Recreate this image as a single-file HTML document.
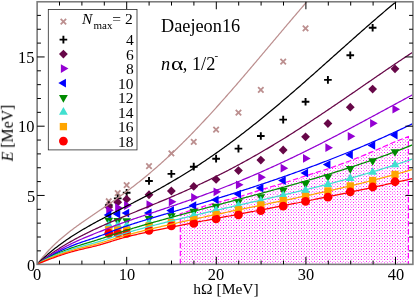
<!DOCTYPE html><html><head><meta charset="utf-8"><style>
html,body{margin:0;padding:0;background:#fff}
#c{position:relative;width:415px;height:298px;overflow:hidden;background:#fff;font-family:"Liberation Serif",serif;color:#000;font-size:15.5px;line-height:1}
.t{position:absolute;white-space:nowrap;line-height:1;will-change:transform}
</style></head><body><div id="c">
<svg width="415" height="298" viewBox="0 0 415 298" style="position:absolute;left:0;top:0">
<defs><pattern id="dots" x="0" y="0" width="13" height="13" patternUnits="userSpaceOnUse" shape-rendering="crispEdges"><rect x="2" y="0" width="1" height="1" fill="#f0f" fill-opacity="0.06"/><rect x="5" y="0" width="1" height="1" fill="#f0f" fill-opacity="0.04"/><rect x="12" y="0" width="1" height="1" fill="#f0f" fill-opacity="0.04"/><rect x="2" y="1" width="1" height="1" fill="#f0f" fill-opacity="0.92"/><rect x="5" y="1" width="1" height="1" fill="#f0f" fill-opacity="0.58"/><rect x="6" y="1" width="1" height="1" fill="#f0f" fill-opacity="0.04"/><rect x="8" y="1" width="1" height="1" fill="#f0f" fill-opacity="0.28"/><rect x="9" y="1" width="1" height="1" fill="#f0f" fill-opacity="0.28"/><rect x="11" y="1" width="1" height="1" fill="#f0f" fill-opacity="0.04"/><rect x="12" y="1" width="1" height="1" fill="#f0f" fill-opacity="0.58"/><rect x="0" y="2" width="1" height="1" fill="#f0f" fill-opacity="0.31"/><rect x="1" y="2" width="1" height="1" fill="#f0f" fill-opacity="0.11"/><rect x="3" y="2" width="1" height="1" fill="#f0f" fill-opacity="0.11"/><rect x="4" y="2" width="1" height="1" fill="#f0f" fill-opacity="0.31"/><rect x="7" y="2" width="1" height="1" fill="#f0f" fill-opacity="0.54"/><rect x="10" y="2" width="1" height="1" fill="#f0f" fill-opacity="0.54"/><rect x="0" y="3" width="1" height="1" fill="#f0f" fill-opacity="0.11"/><rect x="1" y="3" width="1" height="1" fill="#f0f" fill-opacity="0.04"/><rect x="3" y="3" width="1" height="1" fill="#f0f" fill-opacity="0.04"/><rect x="4" y="3" width="1" height="1" fill="#f0f" fill-opacity="0.11"/><rect x="7" y="3" width="1" height="1" fill="#f0f" fill-opacity="0.19"/><rect x="10" y="3" width="1" height="1" fill="#f0f" fill-opacity="0.19"/><rect x="2" y="4" width="1" height="1" fill="#f0f" fill-opacity="1.00"/><rect x="5" y="4" width="1" height="1" fill="#f0f" fill-opacity="0.92"/><rect x="6" y="4" width="1" height="1" fill="#f0f" fill-opacity="0.06"/><rect x="8" y="4" width="1" height="1" fill="#f0f" fill-opacity="0.44"/><rect x="9" y="4" width="1" height="1" fill="#f0f" fill-opacity="0.44"/><rect x="11" y="4" width="1" height="1" fill="#f0f" fill-opacity="0.06"/><rect x="12" y="4" width="1" height="1" fill="#f0f" fill-opacity="0.92"/><rect x="0" y="5" width="1" height="1" fill="#f0f" fill-opacity="0.11"/><rect x="1" y="5" width="1" height="1" fill="#f0f" fill-opacity="0.04"/><rect x="3" y="5" width="1" height="1" fill="#f0f" fill-opacity="0.04"/><rect x="4" y="5" width="1" height="1" fill="#f0f" fill-opacity="0.11"/><rect x="7" y="5" width="1" height="1" fill="#f0f" fill-opacity="0.19"/><rect x="10" y="5" width="1" height="1" fill="#f0f" fill-opacity="0.19"/><rect x="0" y="6" width="1" height="1" fill="#f0f" fill-opacity="0.31"/><rect x="1" y="6" width="1" height="1" fill="#f0f" fill-opacity="0.11"/><rect x="3" y="6" width="1" height="1" fill="#f0f" fill-opacity="0.11"/><rect x="4" y="6" width="1" height="1" fill="#f0f" fill-opacity="0.31"/><rect x="7" y="6" width="1" height="1" fill="#f0f" fill-opacity="0.54"/><rect x="10" y="6" width="1" height="1" fill="#f0f" fill-opacity="0.54"/><rect x="2" y="7" width="1" height="1" fill="#f0f" fill-opacity="0.92"/><rect x="5" y="7" width="1" height="1" fill="#f0f" fill-opacity="0.58"/><rect x="6" y="7" width="1" height="1" fill="#f0f" fill-opacity="0.04"/><rect x="8" y="7" width="1" height="1" fill="#f0f" fill-opacity="0.28"/><rect x="9" y="7" width="1" height="1" fill="#f0f" fill-opacity="0.28"/><rect x="11" y="7" width="1" height="1" fill="#f0f" fill-opacity="0.04"/><rect x="12" y="7" width="1" height="1" fill="#f0f" fill-opacity="0.58"/><rect x="2" y="8" width="1" height="1" fill="#f0f" fill-opacity="0.06"/><rect x="5" y="8" width="1" height="1" fill="#f0f" fill-opacity="0.04"/><rect x="12" y="8" width="1" height="1" fill="#f0f" fill-opacity="0.04"/><rect x="0" y="9" width="1" height="1" fill="#f0f" fill-opacity="0.54"/><rect x="1" y="9" width="1" height="1" fill="#f0f" fill-opacity="0.19"/><rect x="3" y="9" width="1" height="1" fill="#f0f" fill-opacity="0.19"/><rect x="4" y="9" width="1" height="1" fill="#f0f" fill-opacity="0.54"/><rect x="7" y="9" width="1" height="1" fill="#f0f" fill-opacity="0.95"/><rect x="10" y="9" width="1" height="1" fill="#f0f" fill-opacity="0.95"/><rect x="2" y="10" width="1" height="1" fill="#f0f" fill-opacity="0.44"/><rect x="5" y="10" width="1" height="1" fill="#f0f" fill-opacity="0.28"/><rect x="8" y="10" width="1" height="1" fill="#f0f" fill-opacity="0.13"/><rect x="9" y="10" width="1" height="1" fill="#f0f" fill-opacity="0.13"/><rect x="12" y="10" width="1" height="1" fill="#f0f" fill-opacity="0.28"/><rect x="2" y="11" width="1" height="1" fill="#f0f" fill-opacity="0.44"/><rect x="5" y="11" width="1" height="1" fill="#f0f" fill-opacity="0.28"/><rect x="8" y="11" width="1" height="1" fill="#f0f" fill-opacity="0.13"/><rect x="9" y="11" width="1" height="1" fill="#f0f" fill-opacity="0.13"/><rect x="12" y="11" width="1" height="1" fill="#f0f" fill-opacity="0.28"/><rect x="0" y="12" width="1" height="1" fill="#f0f" fill-opacity="0.54"/><rect x="1" y="12" width="1" height="1" fill="#f0f" fill-opacity="0.19"/><rect x="3" y="12" width="1" height="1" fill="#f0f" fill-opacity="0.19"/><rect x="4" y="12" width="1" height="1" fill="#f0f" fill-opacity="0.54"/><rect x="7" y="12" width="1" height="1" fill="#f0f" fill-opacity="0.95"/><rect x="10" y="12" width="1" height="1" fill="#f0f" fill-opacity="0.95"/></pattern><clipPath id="clip"><rect x="37.10" y="1.90" width="375.50" height="262.30"/></clipPath></defs>
<rect width="415" height="298" fill="#fff"/>
<g clip-path="url(#clip)">
<path d="M180.32,264.20 L180.32,213.72 L193.74,209.44 L216.10,202.68 L238.46,197.01 L260.82,189.83 L283.19,183.20 L305.55,175.89 L327.91,168.84 L350.27,160.76 L372.64,151.65 L395.00,141.71 L408.42,136.60 L408.42,264.20Z" fill="url(#dots)" stroke="none"/>
<path d="M180.32,264.20 L180.32,213.72 L193.74,209.44 L216.10,202.68 L238.46,197.01 L260.82,189.83 L283.19,183.20 L305.55,175.89 L327.91,168.84 L350.27,160.76 L372.64,151.65 L395.00,141.71 L408.42,136.60 L408.42,264.20" fill="none" stroke="#ff00ff" stroke-width="1.2" stroke-dasharray="5.5,2.5"/>
<path d="M106.03,198.50L111.49,203.95M106.03,203.95L111.49,198.50" stroke="#bc8f8f" stroke-width="1.8" fill="none"/>
<path d="M114.98,190.35L120.43,195.81M114.98,195.81L120.43,190.35" stroke="#bc8f8f" stroke-width="1.8" fill="none"/>
<path d="M123.92,182.48L129.38,187.93M123.92,187.93L129.38,182.48" stroke="#bc8f8f" stroke-width="1.8" fill="none"/>
<path d="M146.28,163.42L151.74,168.88M146.28,168.88L151.74,163.42" stroke="#bc8f8f" stroke-width="1.8" fill="none"/>
<path d="M168.65,150.72L174.10,156.17M168.65,156.17L174.10,150.72" stroke="#bc8f8f" stroke-width="1.8" fill="none"/>
<path d="M191.01,139.12L196.47,144.57M191.01,144.57L196.47,139.12" stroke="#bc8f8f" stroke-width="1.8" fill="none"/>
<path d="M213.37,126.82L218.83,132.28M213.37,132.28L218.83,126.82" stroke="#bc8f8f" stroke-width="1.8" fill="none"/>
<path d="M235.73,109.98L241.19,115.43M235.73,115.43L241.19,109.98" stroke="#bc8f8f" stroke-width="1.8" fill="none"/>
<path d="M258.10,87.19L263.55,92.65M258.10,92.65L263.55,87.19" stroke="#bc8f8f" stroke-width="1.8" fill="none"/>
<path d="M280.46,58.88L285.92,64.34M280.46,64.34L285.92,58.88" stroke="#bc8f8f" stroke-width="1.8" fill="none"/>
<path d="M302.82,25.60L308.28,31.05M302.82,31.05L308.28,25.60" stroke="#bc8f8f" stroke-width="1.8" fill="none"/>
<path d="M104.93,205.09L112.59,205.09M108.76,201.27L108.76,208.92" stroke="#000000" stroke-width="1.9" fill="none"/>
<path d="M113.88,198.33L121.53,198.33M117.70,194.50L117.70,202.15" stroke="#000000" stroke-width="1.9" fill="none"/>
<path d="M122.82,192.80L130.48,192.80M126.65,188.97L126.65,196.63" stroke="#000000" stroke-width="1.9" fill="none"/>
<path d="M145.18,180.93L152.84,180.93M149.01,177.10L149.01,184.75" stroke="#000000" stroke-width="1.9" fill="none"/>
<path d="M167.55,173.88L175.20,173.88M171.38,170.05L171.38,177.71" stroke="#000000" stroke-width="1.9" fill="none"/>
<path d="M189.91,166.70L197.57,166.70M193.74,162.87L193.74,170.53" stroke="#000000" stroke-width="1.9" fill="none"/>
<path d="M212.27,158.69L219.93,158.69M216.10,154.86L216.10,162.52" stroke="#000000" stroke-width="1.9" fill="none"/>
<path d="M234.63,148.61L242.29,148.61M238.46,144.78L238.46,152.44" stroke="#000000" stroke-width="1.9" fill="none"/>
<path d="M257.00,136.04L264.65,136.04M260.82,132.22L260.82,139.87" stroke="#000000" stroke-width="1.9" fill="none"/>
<path d="M279.36,119.61L287.02,119.61M283.19,115.78L283.19,123.44" stroke="#000000" stroke-width="1.9" fill="none"/>
<path d="M301.72,101.79L309.38,101.79M305.55,97.97L305.55,105.62" stroke="#000000" stroke-width="1.9" fill="none"/>
<path d="M324.08,79.84L331.74,79.84M327.91,76.01L327.91,83.66" stroke="#000000" stroke-width="1.9" fill="none"/>
<path d="M346.45,55.25L354.10,55.25M350.27,51.43L350.27,59.08" stroke="#000000" stroke-width="1.9" fill="none"/>
<path d="M368.81,27.77L376.47,27.77M372.64,23.94L372.64,31.60" stroke="#000000" stroke-width="1.9" fill="none"/>
<path d="M104.36,206.89L108.76,202.49L113.16,206.89L108.76,211.29Z" fill="#670748"/>
<path d="M113.30,202.19L117.70,197.79L122.11,202.19L117.70,206.59Z" fill="#670748"/>
<path d="M122.25,199.15L126.65,194.75L131.05,199.15L126.65,203.55Z" fill="#670748"/>
<path d="M144.61,194.74L149.01,190.34L153.41,194.74L149.01,199.14Z" fill="#670748"/>
<path d="M166.97,191.01L171.38,186.61L175.78,191.01L171.38,195.41Z" fill="#670748"/>
<path d="M189.34,186.45L193.74,182.05L198.14,186.45L193.74,190.85Z" fill="#670748"/>
<path d="M211.70,179.41L216.10,175.01L220.50,179.41L216.10,183.81Z" fill="#670748"/>
<path d="M234.06,170.57L238.46,166.17L242.86,170.57L238.46,174.97Z" fill="#670748"/>
<path d="M256.43,160.07L260.82,155.67L265.22,160.07L260.82,164.47Z" fill="#670748"/>
<path d="M278.79,149.99L283.19,145.59L287.59,149.99L283.19,154.39Z" fill="#670748"/>
<path d="M301.15,136.87L305.55,132.47L309.95,136.87L305.55,141.27Z" fill="#670748"/>
<path d="M323.51,123.48L327.91,119.08L332.31,123.48L327.91,127.88Z" fill="#670748"/>
<path d="M345.88,107.18L350.27,102.78L354.67,107.18L350.27,111.58Z" fill="#670748"/>
<path d="M368.24,89.09L372.64,84.69L377.04,89.09L372.64,93.49Z" fill="#670748"/>
<path d="M390.60,68.79L395.00,64.39L399.40,68.79L395.00,73.19Z" fill="#670748"/>
<path d="M106.22,205.80L113.84,210.20L106.22,214.60Z" fill="#9400d3"/>
<path d="M115.16,203.32L122.79,207.72L115.16,212.12Z" fill="#9400d3"/>
<path d="M124.11,201.11L131.73,205.51L124.11,209.91Z" fill="#9400d3"/>
<path d="M146.47,200.14L154.09,204.54L146.47,208.94Z" fill="#9400d3"/>
<path d="M168.83,197.38L176.46,201.78L168.83,206.18Z" fill="#9400d3"/>
<path d="M191.20,193.10L198.82,197.50L191.20,201.90Z" fill="#9400d3"/>
<path d="M213.56,187.44L221.18,191.84L213.56,196.24Z" fill="#9400d3"/>
<path d="M235.92,180.39L243.54,184.79L235.92,189.19Z" fill="#9400d3"/>
<path d="M258.28,172.94L265.91,177.34L258.28,181.74Z" fill="#9400d3"/>
<path d="M280.65,163.82L288.27,168.22L280.65,172.62Z" fill="#9400d3"/>
<path d="M303.01,154.02L310.63,158.42L303.01,162.82Z" fill="#9400d3"/>
<path d="M325.37,143.24L332.99,147.64L325.37,152.04Z" fill="#9400d3"/>
<path d="M347.73,131.97L355.36,136.37L347.73,140.77Z" fill="#9400d3"/>
<path d="M370.10,118.88L377.72,123.28L370.10,127.68Z" fill="#9400d3"/>
<path d="M392.46,104.74L400.08,109.14L392.46,113.54Z" fill="#9400d3"/>
<path d="M111.30,210.50L103.68,214.90L111.30,219.30Z" fill="#0000ff"/>
<path d="M120.25,209.67L112.62,214.07L120.25,218.47Z" fill="#0000ff"/>
<path d="M129.19,208.70L121.57,213.10L129.19,217.50Z" fill="#0000ff"/>
<path d="M151.55,208.56L143.93,212.96L151.55,217.36Z" fill="#0000ff"/>
<path d="M173.92,206.08L166.29,210.48L173.92,214.88Z" fill="#0000ff"/>
<path d="M196.28,201.18L188.66,205.58L196.28,209.98Z" fill="#0000ff"/>
<path d="M218.64,195.38L211.02,199.78L218.64,204.18Z" fill="#0000ff"/>
<path d="M241.00,189.71L233.38,194.11L241.00,198.51Z" fill="#0000ff"/>
<path d="M263.37,183.64L255.74,188.04L263.37,192.44Z" fill="#0000ff"/>
<path d="M285.73,176.18L278.11,180.58L285.73,184.98Z" fill="#0000ff"/>
<path d="M308.09,168.72L300.47,173.12L308.09,177.52Z" fill="#0000ff"/>
<path d="M330.45,160.16L322.83,164.56L330.45,168.96Z" fill="#0000ff"/>
<path d="M352.82,150.42L345.19,154.82L352.82,159.22Z" fill="#0000ff"/>
<path d="M375.18,141.03L367.56,145.43L375.18,149.83Z" fill="#0000ff"/>
<path d="M397.54,130.68L389.92,135.08L397.54,139.48Z" fill="#0000ff"/>
<path d="M104.36,217.74L108.76,225.36L113.16,217.74Z" fill="#008b00"/>
<path d="M113.30,218.02L117.70,225.64L122.11,218.02Z" fill="#008b00"/>
<path d="M122.25,218.30L126.65,225.92L131.05,218.30Z" fill="#008b00"/>
<path d="M144.61,216.09L149.01,223.71L153.41,216.09Z" fill="#008b00"/>
<path d="M166.97,213.19L171.38,220.81L175.78,213.19Z" fill="#008b00"/>
<path d="M189.34,208.84L193.74,216.46L198.14,208.84Z" fill="#008b00"/>
<path d="M211.70,203.86L216.10,211.49L220.50,203.86Z" fill="#008b00"/>
<path d="M234.06,199.17L238.46,206.79L242.86,199.17Z" fill="#008b00"/>
<path d="M256.43,194.20L260.82,201.82L265.22,194.20Z" fill="#008b00"/>
<path d="M278.79,187.71L283.19,195.33L287.59,187.71Z" fill="#008b00"/>
<path d="M301.15,181.08L305.55,188.70L309.95,181.08Z" fill="#008b00"/>
<path d="M323.51,174.17L327.91,181.79L332.31,174.17Z" fill="#008b00"/>
<path d="M345.88,166.09L350.27,173.72L354.67,166.09Z" fill="#008b00"/>
<path d="M368.24,158.22L372.64,165.84L377.04,158.22Z" fill="#008b00"/>
<path d="M390.60,149.25L395.00,156.87L399.40,149.25Z" fill="#008b00"/>
<path d="M104.36,227.52L108.76,219.90L113.16,227.52Z" fill="#40e0d0"/>
<path d="M113.30,227.80L117.70,220.18L122.11,227.80Z" fill="#40e0d0"/>
<path d="M122.25,228.07L126.65,220.45L131.05,228.07Z" fill="#40e0d0"/>
<path d="M144.61,225.03L149.01,217.41L153.41,225.03Z" fill="#40e0d0"/>
<path d="M166.97,222.27L171.38,214.65L175.78,222.27Z" fill="#40e0d0"/>
<path d="M189.34,217.78L193.74,210.16L198.14,217.78Z" fill="#40e0d0"/>
<path d="M211.70,212.67L216.10,205.05L220.50,212.67Z" fill="#40e0d0"/>
<path d="M234.06,208.12L238.46,200.50L242.86,208.12Z" fill="#40e0d0"/>
<path d="M256.43,203.42L260.82,195.80L265.22,203.42Z" fill="#40e0d0"/>
<path d="M278.79,198.17L283.19,190.55L287.59,198.17Z" fill="#40e0d0"/>
<path d="M301.15,192.93L305.55,185.30L309.95,192.93Z" fill="#40e0d0"/>
<path d="M323.51,186.99L327.91,179.37L332.31,186.99Z" fill="#40e0d0"/>
<path d="M345.88,180.98L350.27,173.36L354.67,180.98Z" fill="#40e0d0"/>
<path d="M368.24,174.77L372.64,167.14L377.04,174.77Z" fill="#40e0d0"/>
<path d="M390.60,167.31L395.00,159.69L399.40,167.31Z" fill="#40e0d0"/>
<rect x="105.11" y="226.16" width="7.30" height="7.30" fill="#ffa500"/>
<rect x="114.05" y="226.44" width="7.30" height="7.30" fill="#ffa500"/>
<rect x="123.00" y="226.58" width="7.30" height="7.30" fill="#ffa500"/>
<rect x="145.36" y="222.43" width="7.30" height="7.30" fill="#ffa500"/>
<rect x="167.72" y="219.12" width="7.30" height="7.30" fill="#ffa500"/>
<rect x="190.09" y="215.73" width="7.30" height="7.30" fill="#ffa500"/>
<rect x="212.45" y="210.62" width="7.30" height="7.30" fill="#ffa500"/>
<rect x="234.81" y="206.07" width="7.30" height="7.30" fill="#ffa500"/>
<rect x="257.17" y="201.23" width="7.30" height="7.30" fill="#ffa500"/>
<rect x="279.54" y="196.95" width="7.30" height="7.30" fill="#ffa500"/>
<rect x="301.90" y="192.81" width="7.30" height="7.30" fill="#ffa500"/>
<rect x="324.26" y="187.29" width="7.30" height="7.30" fill="#ffa500"/>
<rect x="346.62" y="182.25" width="7.30" height="7.30" fill="#ffa500"/>
<rect x="368.99" y="176.86" width="7.30" height="7.30" fill="#ffa500"/>
<rect x="391.35" y="170.78" width="7.30" height="7.30" fill="#ffa500"/>
<circle cx="108.76" cy="233.27" r="4.4" fill="#ff0000"/>
<circle cx="117.70" cy="233.54" r="4.4" fill="#ff0000"/>
<circle cx="126.65" cy="233.40" r="4.4" fill="#ff0000"/>
<circle cx="149.01" cy="230.37" r="4.4" fill="#ff0000"/>
<circle cx="171.38" cy="225.95" r="4.4" fill="#ff0000"/>
<circle cx="193.74" cy="223.39" r="4.4" fill="#ff0000"/>
<circle cx="216.10" cy="218.83" r="4.4" fill="#ff0000"/>
<circle cx="238.46" cy="214.83" r="4.4" fill="#ff0000"/>
<circle cx="260.82" cy="210.69" r="4.4" fill="#ff0000"/>
<circle cx="283.19" cy="206.13" r="4.4" fill="#ff0000"/>
<circle cx="305.55" cy="201.43" r="4.4" fill="#ff0000"/>
<circle cx="327.91" cy="197.15" r="4.4" fill="#ff0000"/>
<circle cx="350.27" cy="191.84" r="4.4" fill="#ff0000"/>
<circle cx="372.64" cy="187.00" r="4.4" fill="#ff0000"/>
<circle cx="395.00" cy="181.75" r="4.4" fill="#ff0000"/>
<path d="M37.20,264.20 L38.11,262.98 L39.02,261.78 L39.94,260.61 L40.85,259.46 L41.76,258.34 L42.67,257.23 L43.59,256.15 L44.50,255.08 L45.41,254.04 L46.32,253.01 L47.24,252.00 L48.15,251.01 L49.06,250.04 L49.97,249.09 L50.89,248.15 L51.80,247.22 L52.71,246.31 L53.62,245.42 L54.54,244.54 L55.45,243.67 L56.36,242.82 L57.27,241.97 L58.19,241.15 L59.10,240.33 L60.01,239.52 L60.92,238.73 L61.84,237.94 L62.75,237.17 L63.66,236.40 L64.57,235.65 L65.49,234.90 L66.40,234.16 L67.31,233.43 L68.22,232.71 L69.14,231.99 L70.05,231.28 L70.96,230.58 L71.87,229.89 L72.79,229.20 L73.70,228.51 L74.61,227.84 L75.52,227.17 L76.44,226.50 L77.35,225.84 L78.26,225.18 L79.17,224.52 L80.09,223.87 L81.00,223.23 L81.91,222.58 L82.82,221.94 L83.73,221.31 L84.65,220.67 L85.56,220.04 L86.47,219.41 L87.38,218.78 L88.30,218.16 L89.21,217.53 L90.12,216.91 L91.03,216.29 L91.95,215.67 L92.86,215.05 L93.77,214.43 L94.68,213.81 L95.60,213.19 L96.51,212.57 L97.42,211.95 L98.33,211.34 L99.25,210.72 L100.16,210.10 L101.07,209.48 L101.98,208.86 L102.90,208.24 L103.81,207.62 L104.72,207.00 L105.63,206.37 L106.55,205.75 L107.46,205.12 L108.37,204.49 L109.28,203.86 L110.20,203.23 L111.11,202.60 L112.02,201.96 L112.93,201.33 L113.85,200.69 L114.76,200.04 L115.67,199.40 L116.58,198.75 L117.50,198.11 L118.41,197.45 L119.32,196.80 L120.23,196.14 L121.15,195.49 L122.06,194.82 L122.97,194.16 L123.88,193.49 L124.80,192.82 L125.71,192.15 L126.62,191.47 L127.53,190.79 L128.44,190.11 L129.36,189.42 L130.27,188.73 L131.18,188.04 L132.09,187.34 L133.01,186.64 L133.92,185.94 L134.83,185.23 L135.74,184.52 L136.66,183.81 L137.57,183.09 L138.48,182.37 L139.39,181.65 L140.31,180.92 L141.22,180.19 L142.13,179.45 L143.04,178.71 L143.96,177.97 L144.87,177.22 L145.78,176.47 L146.69,175.72 L147.61,174.96 L148.52,174.20 L149.43,173.43 L150.34,172.66 L151.26,171.89 L152.17,171.11 L153.08,170.33 L153.99,169.55 L154.91,168.76 L155.82,167.97 L156.73,167.17 L157.64,166.37 L158.56,165.57 L159.47,164.76 L160.38,163.95 L161.29,163.13 L162.21,162.31 L163.12,161.49 L164.03,160.66 L164.94,159.83 L165.86,159.00 L166.77,158.16 L167.68,157.32 L168.59,156.47 L169.51,155.62 L170.42,154.77 L171.33,153.91 L172.24,153.05 L173.16,152.18 L174.07,151.32 L174.98,150.44 L175.89,149.57 L176.80,148.69 L177.72,147.81 L178.63,146.92 L179.54,146.03 L180.45,145.14 L181.37,144.24 L182.28,143.34 L183.19,142.43 L184.10,141.53 L185.02,140.62 L185.93,139.70 L186.84,138.78 L187.75,137.86 L188.67,136.94 L189.58,136.01 L190.49,135.08 L191.40,134.15 L192.32,133.21 L193.23,132.27 L194.14,131.32 L195.05,130.38 L195.97,129.43 L196.88,128.47 L197.79,127.52 L198.70,126.56 L199.62,125.60 L200.53,124.63 L201.44,123.66 L202.35,122.69 L203.27,121.72 L204.18,120.74 L205.09,119.76 L206.00,118.78 L206.92,117.80 L207.83,116.81 L208.74,115.82 L209.65,114.82 L210.57,113.83 L211.48,112.83 L212.39,111.83 L213.30,110.83 L214.22,109.82 L215.13,108.81 L216.04,107.80 L216.95,106.79 L217.87,105.77 L218.78,104.76 L219.69,103.74 L220.60,102.71 L221.51,101.69 L222.43,100.66 L223.34,99.64 L224.25,98.60 L225.16,97.57 L226.08,96.54 L226.99,95.50 L227.90,94.46 L228.81,93.42 L229.73,92.38 L230.64,91.34 L231.55,90.29 L232.46,89.24 L233.38,88.19 L234.29,87.14 L235.20,86.09 L236.11,85.04 L237.03,83.98 L237.94,82.93 L238.85,81.87 L239.76,80.81 L240.68,79.75 L241.59,78.68 L242.50,77.62 L243.41,76.55 L244.33,75.49 L245.24,74.42 L246.15,73.35 L247.06,72.28 L247.98,71.21 L248.89,70.14 L249.80,69.07 L250.71,67.99 L251.63,66.92 L252.54,65.84 L253.45,64.77 L254.36,63.69 L255.28,62.61 L256.19,61.53 L257.10,60.45 L258.01,59.37 L258.93,58.29 L259.84,57.21 L260.75,56.13 L261.66,55.05 L262.58,53.96 L263.49,52.88 L264.40,51.80 L265.31,50.71 L266.22,49.63 L267.14,48.55 L268.05,47.46 L268.96,46.38 L269.87,45.29 L270.79,44.21 L271.70,43.13 L272.61,42.04 L273.52,40.96 L274.44,39.87 L275.35,38.79 L276.26,37.70 L277.17,36.62 L278.09,35.54 L279.00,34.45 L279.91,33.37 L280.82,32.29 L281.74,31.21 L282.65,30.12 L283.56,29.04 L284.47,27.96 L285.39,26.88 L286.30,25.80 L287.21,24.72 L288.12,23.65 L289.04,22.57 L289.95,21.49 L290.86,20.42 L291.77,19.34 L292.69,18.27 L293.60,17.19 L294.51,16.12 L295.42,15.05 L296.34,13.98 L297.25,12.91 L298.16,11.85 L299.07,10.78 L299.99,9.71 L300.90,8.65 L301.81,7.59 L302.72,6.53 L303.64,5.47 L304.55,4.41 L305.46,3.35 L306.37,2.30 L307.29,1.24 L308.20,0.19 L309.11,-0.86 L310.02,-1.91" fill="none" stroke="#bc8f8f" stroke-width="1.25"/>
<path d="M37.20,264.20 L38.41,262.99 L39.62,261.80 L40.83,260.64 L42.05,259.49 L43.26,258.37 L44.47,257.26 L45.68,256.17 L46.89,255.10 L48.10,254.05 L49.32,253.01 L50.53,251.99 L51.74,250.99 L52.95,250.01 L54.16,249.03 L55.37,248.08 L56.59,247.14 L57.80,246.21 L59.01,245.30 L60.22,244.40 L61.43,243.51 L62.64,242.64 L63.86,241.77 L65.07,240.92 L66.28,240.08 L67.49,239.25 L68.70,238.44 L69.91,237.63 L71.13,236.83 L72.34,236.04 L73.55,235.26 L74.76,234.49 L75.97,233.73 L77.18,232.98 L78.39,232.23 L79.61,231.50 L80.82,230.77 L82.03,230.04 L83.24,229.33 L84.45,228.62 L85.66,227.92 L86.88,227.22 L88.09,226.53 L89.30,225.84 L90.51,225.16 L91.72,224.48 L92.93,223.81 L94.15,223.14 L95.36,222.48 L96.57,221.82 L97.78,221.17 L98.99,220.52 L100.20,219.87 L101.42,219.22 L102.63,218.58 L103.84,217.94 L105.05,217.30 L106.26,216.67 L107.47,216.04 L108.69,215.41 L109.90,214.78 L111.11,214.15 L112.32,213.52 L113.53,212.90 L114.74,212.27 L115.95,211.65 L117.17,211.03 L118.38,210.41 L119.59,209.78 L120.80,209.16 L122.01,208.54 L123.22,207.92 L124.44,207.30 L125.65,206.68 L126.86,206.05 L128.07,205.43 L129.28,204.81 L130.49,204.18 L131.71,203.56 L132.92,202.93 L134.13,202.30 L135.34,201.67 L136.55,201.04 L137.76,200.41 L138.98,199.78 L140.19,199.14 L141.40,198.51 L142.61,197.87 L143.82,197.23 L145.03,196.58 L146.25,195.94 L147.46,195.29 L148.67,194.64 L149.88,193.99 L151.09,193.33 L152.30,192.68 L153.51,192.02 L154.73,191.35 L155.94,190.69 L157.15,190.02 L158.36,189.35 L159.57,188.67 L160.78,187.99 L162.00,187.31 L163.21,186.63 L164.42,185.94 L165.63,185.25 L166.84,184.56 L168.05,183.86 L169.27,183.16 L170.48,182.46 L171.69,181.75 L172.90,181.04 L174.11,180.32 L175.32,179.61 L176.54,178.88 L177.75,178.16 L178.96,177.43 L180.17,176.70 L181.38,175.96 L182.59,175.22 L183.81,174.48 L185.02,173.73 L186.23,172.98 L187.44,172.22 L188.65,171.46 L189.86,170.70 L191.07,169.93 L192.29,169.16 L193.50,168.38 L194.71,167.60 L195.92,166.82 L197.13,166.03 L198.34,165.24 L199.56,164.44 L200.77,163.64 L201.98,162.84 L203.19,162.03 L204.40,161.22 L205.61,160.41 L206.83,159.59 L208.04,158.76 L209.25,157.94 L210.46,157.10 L211.67,156.27 L212.88,155.43 L214.10,154.58 L215.31,153.74 L216.52,152.88 L217.73,152.03 L218.94,151.17 L220.15,150.31 L221.37,149.44 L222.58,148.57 L223.79,147.69 L225.00,146.81 L226.21,145.93 L227.42,145.04 L228.63,144.15 L229.85,143.26 L231.06,142.36 L232.27,141.46 L233.48,140.55 L234.69,139.64 L235.90,138.73 L237.12,137.81 L238.33,136.89 L239.54,135.97 L240.75,135.04 L241.96,134.11 L243.17,133.17 L244.39,132.24 L245.60,131.29 L246.81,130.35 L248.02,129.40 L249.23,128.45 L250.44,127.49 L251.66,126.53 L252.87,125.57 L254.08,124.61 L255.29,123.64 L256.50,122.67 L257.71,121.69 L258.93,120.71 L260.14,119.73 L261.35,118.75 L262.56,117.76 L263.77,116.77 L264.98,115.78 L266.19,114.78 L267.41,113.79 L268.62,112.78 L269.83,111.78 L271.04,110.77 L272.25,109.76 L273.46,108.75 L274.68,107.74 L275.89,106.72 L277.10,105.70 L278.31,104.68 L279.52,103.65 L280.73,102.63 L281.95,101.60 L283.16,100.56 L284.37,99.53 L285.58,98.49 L286.79,97.46 L288.00,96.42 L289.22,95.37 L290.43,94.33 L291.64,93.28 L292.85,92.23 L294.06,91.18 L295.27,90.13 L296.49,89.08 L297.70,88.02 L298.91,86.97 L300.12,85.91 L301.33,84.85 L302.54,83.79 L303.76,82.72 L304.97,81.66 L306.18,80.59 L307.39,79.53 L308.60,78.46 L309.81,77.39 L311.02,76.32 L312.24,75.25 L313.45,74.17 L314.66,73.10 L315.87,72.02 L317.08,70.95 L318.29,69.87 L319.51,68.80 L320.72,67.72 L321.93,66.64 L323.14,65.56 L324.35,64.48 L325.56,63.40 L326.78,62.32 L327.99,61.24 L329.20,60.16 L330.41,59.08 L331.62,58.00 L332.83,56.91 L334.05,55.83 L335.26,54.75 L336.47,53.67 L337.68,52.59 L338.89,51.51 L340.10,50.43 L341.32,49.34 L342.53,48.26 L343.74,47.18 L344.95,46.10 L346.16,45.02 L347.37,43.95 L348.58,42.87 L349.80,41.79 L351.01,40.71 L352.22,39.64 L353.43,38.56 L354.64,37.49 L355.85,36.41 L357.07,35.34 L358.28,34.27 L359.49,33.20 L360.70,32.13 L361.91,31.07 L363.12,30.00 L364.34,28.94 L365.55,27.87 L366.76,26.81 L367.97,25.75 L369.18,24.69 L370.39,23.63 L371.61,22.58 L372.82,21.53 L374.03,20.48 L375.24,19.43 L376.45,18.38 L377.66,17.33 L378.88,16.29 L380.09,15.25 L381.30,14.21 L382.51,13.17 L383.72,12.14 L384.93,11.11 L386.14,10.08 L387.36,9.05 L388.57,8.03 L389.78,7.01 L390.99,5.99 L392.20,4.97 L393.41,3.96 L394.63,2.95 L395.84,1.95 L397.05,0.94 L398.26,-0.06 L399.47,-1.06" fill="none" stroke="#000000" stroke-width="1.25"/>
<path d="M37.20,264.20 L38.45,263.19 L39.71,262.20 L40.96,261.23 L42.22,260.26 L43.47,259.31 L44.73,258.38 L45.98,257.46 L47.24,256.55 L48.49,255.65 L49.75,254.77 L51.00,253.90 L52.26,253.04 L53.51,252.19 L54.77,251.35 L56.02,250.53 L57.28,249.71 L58.53,248.91 L59.79,248.12 L61.04,247.33 L62.30,246.56 L63.55,245.80 L64.81,245.04 L66.06,244.30 L67.32,243.56 L68.57,242.83 L69.83,242.11 L71.08,241.40 L72.34,240.70 L73.59,240.01 L74.85,239.32 L76.10,238.64 L77.36,237.97 L78.61,237.31 L79.87,236.65 L81.12,236.00 L82.38,235.35 L83.63,234.71 L84.89,234.08 L86.14,233.46 L87.40,232.84 L88.65,232.22 L89.91,231.61 L91.16,231.01 L92.42,230.41 L93.67,229.81 L94.93,229.22 L96.18,228.64 L97.44,228.06 L98.69,227.48 L99.95,226.91 L101.20,226.34 L102.46,225.78 L103.71,225.22 L104.97,224.66 L106.22,224.11 L107.48,223.56 L108.73,223.01 L109.99,222.46 L111.24,221.92 L112.50,221.38 L113.75,220.84 L115.01,220.31 L116.26,219.78 L117.52,219.25 L118.77,218.72 L120.03,218.19 L121.28,217.67 L122.54,217.14 L123.79,216.62 L125.05,216.10 L126.30,215.58 L127.56,215.06 L128.81,214.55 L130.07,214.03 L131.32,213.51 L132.58,213.00 L133.83,212.49 L135.09,211.97 L136.34,211.46 L137.60,210.95 L138.85,210.43 L140.11,209.92 L141.36,209.41 L142.62,208.90 L143.87,208.39 L145.13,207.87 L146.38,207.36 L147.64,206.85 L148.89,206.33 L150.15,205.82 L151.40,205.30 L152.66,204.79 L153.91,204.27 L155.17,203.75 L156.42,203.24 L157.68,202.72 L158.93,202.20 L160.19,201.67 L161.44,201.15 L162.70,200.63 L163.95,200.10 L165.21,199.58 L166.46,199.05 L167.72,198.52 L168.97,197.99 L170.23,197.45 L171.48,196.92 L172.74,196.38 L173.99,195.84 L175.25,195.30 L176.50,194.76 L177.76,194.22 L179.01,193.67 L180.27,193.12 L181.52,192.57 L182.78,192.02 L184.03,191.47 L185.29,190.91 L186.54,190.35 L187.80,189.79 L189.05,189.23 L190.31,188.66 L191.56,188.09 L192.82,187.52 L194.07,186.95 L195.33,186.37 L196.58,185.79 L197.84,185.21 L199.09,184.63 L200.35,184.04 L201.60,183.45 L202.86,182.86 L204.11,182.27 L205.37,181.67 L206.62,181.07 L207.88,180.47 L209.13,179.86 L210.39,179.26 L211.64,178.65 L212.90,178.03 L214.15,177.42 L215.41,176.80 L216.66,176.17 L217.92,175.55 L219.17,174.92 L220.43,174.29 L221.68,173.65 L222.94,173.02 L224.19,172.38 L225.45,171.73 L226.70,171.09 L227.96,170.44 L229.21,169.79 L230.47,169.13 L231.72,168.47 L232.98,167.81 L234.23,167.15 L235.49,166.48 L236.74,165.81 L238.00,165.14 L239.25,164.46 L240.51,163.78 L241.76,163.10 L243.02,162.42 L244.27,161.73 L245.53,161.04 L246.78,160.34 L248.04,159.65 L249.29,158.95 L250.55,158.24 L251.80,157.54 L253.06,156.83 L254.31,156.12 L255.57,155.40 L256.82,154.69 L258.08,153.97 L259.33,153.24 L260.59,152.52 L261.84,151.79 L263.10,151.05 L264.35,150.32 L265.61,149.58 L266.86,148.84 L268.12,148.10 L269.37,147.35 L270.63,146.60 L271.88,145.85 L273.14,145.10 L274.39,144.34 L275.65,143.58 L276.90,142.82 L278.16,142.06 L279.41,141.29 L280.67,140.52 L281.92,139.75 L283.18,138.97 L284.43,138.19 L285.69,137.41 L286.94,136.63 L288.20,135.85 L289.45,135.06 L290.71,134.27 L291.96,133.48 L293.22,132.68 L294.47,131.89 L295.73,131.09 L296.98,130.29 L298.24,129.48 L299.49,128.68 L300.75,127.87 L302.00,127.06 L303.26,126.25 L304.51,125.43 L305.77,124.62 L307.02,123.80 L308.28,122.98 L309.53,122.16 L310.79,121.34 L312.04,120.51 L313.30,119.68 L314.55,118.85 L315.81,118.02 L317.06,117.19 L318.32,116.36 L319.57,115.52 L320.83,114.69 L322.08,113.85 L323.34,113.01 L324.59,112.17 L325.85,111.32 L327.10,110.48 L328.36,109.63 L329.61,108.79 L330.87,107.94 L332.12,107.09 L333.38,106.24 L334.63,105.39 L335.89,104.53 L337.14,103.68 L338.40,102.82 L339.65,101.97 L340.91,101.11 L342.16,100.26 L343.42,99.40 L344.67,98.54 L345.93,97.68 L347.18,96.82 L348.44,95.96 L349.69,95.10 L350.95,94.23 L352.20,93.37 L353.46,92.51 L354.71,91.64 L355.97,90.78 L357.22,89.92 L358.48,89.05 L359.73,88.19 L360.99,87.32 L362.24,86.46 L363.50,85.59 L364.75,84.73 L366.01,83.86 L367.26,83.00 L368.52,82.14 L369.77,81.27 L371.03,80.41 L372.28,79.54 L373.54,78.68 L374.79,77.82 L376.05,76.96 L377.30,76.09 L378.56,75.23 L379.81,74.37 L381.07,73.51 L382.32,72.65 L383.58,71.80 L384.83,70.94 L386.09,70.08 L387.34,69.23 L388.60,68.37 L389.85,67.52 L391.11,66.67 L392.36,65.82 L393.62,64.97 L394.87,64.12 L396.13,63.27 L397.38,62.42 L398.64,61.58 L399.89,60.74 L401.15,59.90 L402.40,59.06 L403.66,58.22 L404.91,57.38 L406.17,56.55 L407.42,55.71 L408.68,54.88 L409.93,54.06 L411.19,53.23 L412.44,52.41" fill="none" stroke="#670748" stroke-width="1.25"/>
<path d="M37.20,264.20 L38.45,263.29 L39.71,262.40 L40.96,261.52 L42.22,260.65 L43.47,259.80 L44.73,258.96 L45.98,258.13 L47.24,257.31 L48.49,256.51 L49.75,255.71 L51.00,254.93 L52.26,254.16 L53.51,253.41 L54.77,252.66 L56.02,251.92 L57.28,251.20 L58.53,250.48 L59.79,249.78 L61.04,249.08 L62.30,248.40 L63.55,247.72 L64.81,247.06 L66.06,246.40 L67.32,245.76 L68.57,245.12 L69.83,244.50 L71.08,243.88 L72.34,243.27 L73.59,242.67 L74.85,242.08 L76.10,241.50 L77.36,240.93 L78.61,240.36 L79.87,239.80 L81.12,239.25 L82.38,238.71 L83.63,238.17 L84.89,237.64 L86.14,237.11 L87.40,236.59 L88.65,236.08 L89.91,235.56 L91.16,235.05 L92.42,234.55 L93.67,234.04 L94.93,233.54 L96.18,233.04 L97.44,232.54 L98.69,232.04 L99.95,231.55 L101.20,231.05 L102.46,230.56 L103.71,230.06 L104.97,229.57 L106.22,229.08 L107.48,228.59 L108.73,228.11 L109.99,227.62 L111.24,227.14 L112.50,226.66 L113.75,226.18 L115.01,225.70 L116.26,225.23 L117.52,224.76 L118.77,224.30 L120.03,223.84 L121.28,223.38 L122.54,222.92 L123.79,222.47 L125.05,222.02 L126.30,221.58 L127.56,221.14 L128.81,220.70 L130.07,220.26 L131.32,219.82 L132.58,219.39 L133.83,218.96 L135.09,218.53 L136.34,218.11 L137.60,217.68 L138.85,217.26 L140.11,216.83 L141.36,216.41 L142.62,215.99 L143.87,215.57 L145.13,215.15 L146.38,214.73 L147.64,214.31 L148.89,213.89 L150.15,213.47 L151.40,213.06 L152.66,212.64 L153.91,212.22 L155.17,211.80 L156.42,211.38 L157.68,210.96 L158.93,210.55 L160.19,210.13 L161.44,209.71 L162.70,209.29 L163.95,208.87 L165.21,208.45 L166.46,208.02 L167.72,207.60 L168.97,207.18 L170.23,206.75 L171.48,206.33 L172.74,205.90 L173.99,205.48 L175.25,205.05 L176.50,204.62 L177.76,204.19 L179.01,203.76 L180.27,203.33 L181.52,202.90 L182.78,202.46 L184.03,202.03 L185.29,201.59 L186.54,201.15 L187.80,200.72 L189.05,200.28 L190.31,199.83 L191.56,199.39 L192.82,198.95 L194.07,198.50 L195.33,198.05 L196.58,197.60 L197.84,197.15 L199.09,196.70 L200.35,196.24 L201.60,195.79 L202.86,195.33 L204.11,194.87 L205.37,194.41 L206.62,193.95 L207.88,193.48 L209.13,193.02 L210.39,192.55 L211.64,192.08 L212.90,191.61 L214.15,191.13 L215.41,190.66 L216.66,190.18 L217.92,189.70 L219.17,189.22 L220.43,188.74 L221.68,188.25 L222.94,187.76 L224.19,187.27 L225.45,186.78 L226.70,186.29 L227.96,185.79 L229.21,185.30 L230.47,184.80 L231.72,184.30 L232.98,183.79 L234.23,183.29 L235.49,182.78 L236.74,182.27 L238.00,181.76 L239.25,181.25 L240.51,180.73 L241.76,180.21 L243.02,179.69 L244.27,179.17 L245.53,178.65 L246.78,178.12 L248.04,177.59 L249.29,177.06 L250.55,176.53 L251.80,176.00 L253.06,175.46 L254.31,174.92 L255.57,174.38 L256.82,173.84 L258.08,173.29 L259.33,172.74 L260.59,172.20 L261.84,171.64 L263.10,171.09 L264.35,170.54 L265.61,169.98 L266.86,169.42 L268.12,168.86 L269.37,168.29 L270.63,167.73 L271.88,167.16 L273.14,166.59 L274.39,166.02 L275.65,165.45 L276.90,164.87 L278.16,164.30 L279.41,163.72 L280.67,163.13 L281.92,162.55 L283.18,161.97 L284.43,161.38 L285.69,160.79 L286.94,160.20 L288.20,159.61 L289.45,159.01 L290.71,158.42 L291.96,157.82 L293.22,157.22 L294.47,156.62 L295.73,156.01 L296.98,155.41 L298.24,154.80 L299.49,154.19 L300.75,153.58 L302.00,152.97 L303.26,152.35 L304.51,151.74 L305.77,151.12 L307.02,150.50 L308.28,149.88 L309.53,149.26 L310.79,148.63 L312.04,148.01 L313.30,147.38 L314.55,146.75 L315.81,146.12 L317.06,145.49 L318.32,144.86 L319.57,144.22 L320.83,143.59 L322.08,142.95 L323.34,142.31 L324.59,141.67 L325.85,141.03 L327.10,140.39 L328.36,139.74 L329.61,139.10 L330.87,138.45 L332.12,137.80 L333.38,137.15 L334.63,136.50 L335.89,135.85 L337.14,135.20 L338.40,134.54 L339.65,133.89 L340.91,133.23 L342.16,132.57 L343.42,131.92 L344.67,131.26 L345.93,130.60 L347.18,129.94 L348.44,129.27 L349.69,128.61 L350.95,127.95 L352.20,127.28 L353.46,126.61 L354.71,125.95 L355.97,125.28 L357.22,124.61 L358.48,123.94 L359.73,123.27 L360.99,122.60 L362.24,121.93 L363.50,121.26 L364.75,120.59 L366.01,119.91 L367.26,119.24 L368.52,118.57 L369.77,117.89 L371.03,117.22 L372.28,116.54 L373.54,115.87 L374.79,115.19 L376.05,114.51 L377.30,113.84 L378.56,113.16 L379.81,112.48 L381.07,111.80 L382.32,111.12 L383.58,110.45 L384.83,109.77 L386.09,109.09 L387.34,108.41 L388.60,107.73 L389.85,107.05 L391.11,106.37 L392.36,105.69 L393.62,105.01 L394.87,104.33 L396.13,103.65 L397.38,102.98 L398.64,102.30 L399.89,101.62 L401.15,100.94 L402.40,100.26 L403.66,99.58 L404.91,98.91 L406.17,98.23 L407.42,97.55 L408.68,96.88 L409.93,96.20 L411.19,95.52 L412.44,94.85" fill="none" stroke="#9400d3" stroke-width="1.25"/>
<path d="M37.20,264.20 L38.45,263.37 L39.71,262.56 L40.96,261.76 L42.22,260.97 L43.47,260.20 L44.73,259.44 L45.98,258.69 L47.24,257.96 L48.49,257.23 L49.75,256.52 L51.00,255.82 L52.26,255.13 L53.51,254.46 L54.77,253.79 L56.02,253.14 L57.28,252.50 L58.53,251.86 L59.79,251.24 L61.04,250.63 L62.30,250.03 L63.55,249.44 L64.81,248.86 L66.06,248.30 L67.32,247.74 L68.57,247.20 L69.83,246.66 L71.08,246.14 L72.34,245.63 L73.59,245.13 L74.85,244.64 L76.10,244.17 L77.36,243.70 L78.61,243.24 L79.87,242.80 L81.12,242.36 L82.38,241.92 L83.63,241.50 L84.89,241.07 L86.14,240.66 L87.40,240.24 L88.65,239.83 L89.91,239.41 L91.16,238.99 L92.42,238.57 L93.67,238.15 L94.93,237.72 L96.18,237.29 L97.44,236.84 L98.69,236.40 L99.95,235.94 L101.20,235.48 L102.46,235.01 L103.71,234.54 L104.97,234.06 L106.22,233.58 L107.48,233.09 L108.73,232.60 L109.99,232.12 L111.24,231.63 L112.50,231.14 L113.75,230.65 L115.01,230.17 L116.26,229.69 L117.52,229.22 L118.77,228.75 L120.03,228.29 L121.28,227.83 L122.54,227.38 L123.79,226.94 L125.05,226.50 L126.30,226.07 L127.56,225.64 L128.81,225.22 L130.07,224.81 L131.32,224.40 L132.58,223.99 L133.83,223.59 L135.09,223.19 L136.34,222.80 L137.60,222.40 L138.85,222.01 L140.11,221.63 L141.36,221.24 L142.62,220.86 L143.87,220.48 L145.13,220.10 L146.38,219.72 L147.64,219.34 L148.89,218.96 L150.15,218.58 L151.40,218.21 L152.66,217.83 L153.91,217.46 L155.17,217.08 L156.42,216.71 L157.68,216.34 L158.93,215.96 L160.19,215.59 L161.44,215.22 L162.70,214.84 L163.95,214.47 L165.21,214.10 L166.46,213.73 L167.72,213.36 L168.97,212.98 L170.23,212.61 L171.48,212.24 L172.74,211.87 L173.99,211.50 L175.25,211.12 L176.50,210.75 L177.76,210.38 L179.01,210.01 L180.27,209.63 L181.52,209.26 L182.78,208.89 L184.03,208.51 L185.29,208.14 L186.54,207.77 L187.80,207.39 L189.05,207.02 L190.31,206.64 L191.56,206.27 L192.82,205.89 L194.07,205.51 L195.33,205.14 L196.58,204.76 L197.84,204.38 L199.09,204.00 L200.35,203.62 L201.60,203.24 L202.86,202.86 L204.11,202.48 L205.37,202.10 L206.62,201.72 L207.88,201.34 L209.13,200.96 L210.39,200.57 L211.64,200.19 L212.90,199.80 L214.15,199.42 L215.41,199.03 L216.66,198.65 L217.92,198.26 L219.17,197.87 L220.43,197.48 L221.68,197.09 L222.94,196.70 L224.19,196.31 L225.45,195.92 L226.70,195.53 L227.96,195.13 L229.21,194.74 L230.47,194.34 L231.72,193.95 L232.98,193.55 L234.23,193.15 L235.49,192.75 L236.74,192.35 L238.00,191.95 L239.25,191.55 L240.51,191.15 L241.76,190.75 L243.02,190.34 L244.27,189.94 L245.53,189.53 L246.78,189.13 L248.04,188.72 L249.29,188.31 L250.55,187.90 L251.80,187.49 L253.06,187.08 L254.31,186.67 L255.57,186.25 L256.82,185.84 L258.08,185.42 L259.33,185.01 L260.59,184.59 L261.84,184.17 L263.10,183.75 L264.35,183.33 L265.61,182.91 L266.86,182.48 L268.12,182.06 L269.37,181.63 L270.63,181.21 L271.88,180.78 L273.14,180.35 L274.39,179.92 L275.65,179.49 L276.90,179.06 L278.16,178.62 L279.41,178.19 L280.67,177.75 L281.92,177.32 L283.18,176.88 L284.43,176.44 L285.69,176.00 L286.94,175.56 L288.20,175.11 L289.45,174.67 L290.71,174.22 L291.96,173.78 L293.22,173.33 L294.47,172.88 L295.73,172.43 L296.98,171.98 L298.24,171.52 L299.49,171.07 L300.75,170.61 L302.00,170.15 L303.26,169.70 L304.51,169.24 L305.77,168.77 L307.02,168.31 L308.28,167.85 L309.53,167.38 L310.79,166.92 L312.04,166.45 L313.30,165.98 L314.55,165.51 L315.81,165.04 L317.06,164.56 L318.32,164.09 L319.57,163.61 L320.83,163.13 L322.08,162.65 L323.34,162.17 L324.59,161.69 L325.85,161.21 L327.10,160.72 L328.36,160.23 L329.61,159.75 L330.87,159.26 L332.12,158.76 L333.38,158.27 L334.63,157.78 L335.89,157.28 L337.14,156.78 L338.40,156.28 L339.65,155.78 L340.91,155.28 L342.16,154.78 L343.42,154.27 L344.67,153.76 L345.93,153.26 L347.18,152.75 L348.44,152.23 L349.69,151.72 L350.95,151.21 L352.20,150.69 L353.46,150.17 L354.71,149.65 L355.97,149.13 L357.22,148.60 L358.48,148.08 L359.73,147.55 L360.99,147.02 L362.24,146.49 L363.50,145.96 L364.75,145.43 L366.01,144.89 L367.26,144.35 L368.52,143.82 L369.77,143.27 L371.03,142.73 L372.28,142.19 L373.54,141.64 L374.79,141.09 L376.05,140.54 L377.30,139.99 L378.56,139.44 L379.81,138.88 L381.07,138.33 L382.32,137.77 L383.58,137.21 L384.83,136.64 L386.09,136.08 L387.34,135.51 L388.60,134.94 L389.85,134.37 L391.11,133.80 L392.36,133.23 L393.62,132.65 L394.87,132.07 L396.13,131.49 L397.38,130.91 L398.64,130.33 L399.89,129.74 L401.15,129.15 L402.40,128.56 L403.66,127.97 L404.91,127.38 L406.17,126.78 L407.42,126.18 L408.68,125.58 L409.93,124.98 L411.19,124.37 L412.44,123.77" fill="none" stroke="#0000ff" stroke-width="1.25"/>
<path d="M37.20,264.20 L38.45,263.39 L39.71,262.60 L40.96,261.84 L42.22,261.10 L43.47,260.38 L44.73,259.68 L45.98,259.00 L47.24,258.34 L48.49,257.69 L49.75,257.06 L51.00,256.45 L52.26,255.84 L53.51,255.26 L54.77,254.68 L56.02,254.12 L57.28,253.57 L58.53,253.03 L59.79,252.50 L61.04,251.98 L62.30,251.47 L63.55,250.97 L64.81,250.47 L66.06,249.99 L67.32,249.52 L68.57,249.06 L69.83,248.60 L71.08,248.15 L72.34,247.71 L73.59,247.28 L74.85,246.86 L76.10,246.44 L77.36,246.03 L78.61,245.63 L79.87,245.23 L81.12,244.84 L82.38,244.45 L83.63,244.07 L84.89,243.68 L86.14,243.31 L87.40,242.93 L88.65,242.55 L89.91,242.17 L91.16,241.79 L92.42,241.41 L93.67,241.03 L94.93,240.64 L96.18,240.25 L97.44,239.86 L98.69,239.46 L99.95,239.05 L101.20,238.65 L102.46,238.23 L103.71,237.82 L104.97,237.40 L106.22,236.98 L107.48,236.55 L108.73,236.13 L109.99,235.70 L111.24,235.27 L112.50,234.85 L113.75,234.42 L115.01,234.00 L116.26,233.57 L117.52,233.16 L118.77,232.74 L120.03,232.33 L121.28,231.92 L122.54,231.51 L123.79,231.11 L125.05,230.71 L126.30,230.32 L127.56,229.93 L128.81,229.54 L130.07,229.16 L131.32,228.78 L132.58,228.40 L133.83,228.02 L135.09,227.65 L136.34,227.28 L137.60,226.91 L138.85,226.54 L140.11,226.17 L141.36,225.81 L142.62,225.44 L143.87,225.08 L145.13,224.72 L146.38,224.36 L147.64,224.00 L148.89,223.64 L150.15,223.29 L151.40,222.93 L152.66,222.57 L153.91,222.22 L155.17,221.86 L156.42,221.51 L157.68,221.16 L158.93,220.80 L160.19,220.45 L161.44,220.10 L162.70,219.75 L163.95,219.40 L165.21,219.05 L166.46,218.71 L167.72,218.36 L168.97,218.01 L170.23,217.66 L171.48,217.32 L172.74,216.97 L173.99,216.63 L175.25,216.28 L176.50,215.94 L177.76,215.59 L179.01,215.25 L180.27,214.91 L181.52,214.57 L182.78,214.23 L184.03,213.89 L185.29,213.54 L186.54,213.20 L187.80,212.86 L189.05,212.53 L190.31,212.19 L191.56,211.85 L192.82,211.51 L194.07,211.17 L195.33,210.84 L196.58,210.50 L197.84,210.16 L199.09,209.83 L200.35,209.49 L201.60,209.15 L202.86,208.82 L204.11,208.48 L205.37,208.15 L206.62,207.82 L207.88,207.48 L209.13,207.15 L210.39,206.81 L211.64,206.48 L212.90,206.15 L214.15,205.81 L215.41,205.48 L216.66,205.15 L217.92,204.81 L219.17,204.48 L220.43,204.15 L221.68,203.82 L222.94,203.48 L224.19,203.15 L225.45,202.82 L226.70,202.49 L227.96,202.16 L229.21,201.82 L230.47,201.49 L231.72,201.16 L232.98,200.83 L234.23,200.50 L235.49,200.16 L236.74,199.83 L238.00,199.50 L239.25,199.17 L240.51,198.83 L241.76,198.50 L243.02,198.17 L244.27,197.83 L245.53,197.50 L246.78,197.17 L248.04,196.83 L249.29,196.50 L250.55,196.17 L251.80,195.83 L253.06,195.50 L254.31,195.16 L255.57,194.83 L256.82,194.49 L258.08,194.15 L259.33,193.82 L260.59,193.48 L261.84,193.14 L263.10,192.81 L264.35,192.47 L265.61,192.13 L266.86,191.79 L268.12,191.45 L269.37,191.11 L270.63,190.77 L271.88,190.43 L273.14,190.09 L274.39,189.75 L275.65,189.41 L276.90,189.06 L278.16,188.72 L279.41,188.37 L280.67,188.03 L281.92,187.68 L283.18,187.34 L284.43,186.99 L285.69,186.64 L286.94,186.29 L288.20,185.95 L289.45,185.60 L290.71,185.24 L291.96,184.89 L293.22,184.54 L294.47,184.19 L295.73,183.83 L296.98,183.48 L298.24,183.12 L299.49,182.77 L300.75,182.41 L302.00,182.05 L303.26,181.69 L304.51,181.33 L305.77,180.97 L307.02,180.61 L308.28,180.25 L309.53,179.88 L310.79,179.52 L312.04,179.15 L313.30,178.78 L314.55,178.41 L315.81,178.04 L317.06,177.67 L318.32,177.30 L319.57,176.93 L320.83,176.55 L322.08,176.18 L323.34,175.80 L324.59,175.42 L325.85,175.05 L327.10,174.66 L328.36,174.28 L329.61,173.90 L330.87,173.52 L332.12,173.13 L333.38,172.74 L334.63,172.36 L335.89,171.97 L337.14,171.57 L338.40,171.18 L339.65,170.79 L340.91,170.39 L342.16,170.00 L343.42,169.60 L344.67,169.20 L345.93,168.80 L347.18,168.39 L348.44,167.99 L349.69,167.58 L350.95,167.18 L352.20,166.77 L353.46,166.36 L354.71,165.94 L355.97,165.53 L357.22,165.11 L358.48,164.70 L359.73,164.28 L360.99,163.86 L362.24,163.43 L363.50,163.01 L364.75,162.58 L366.01,162.15 L367.26,161.72 L368.52,161.29 L369.77,160.86 L371.03,160.42 L372.28,159.99 L373.54,159.55 L374.79,159.11 L376.05,158.66 L377.30,158.22 L378.56,157.77 L379.81,157.32 L381.07,156.87 L382.32,156.42 L383.58,155.96 L384.83,155.51 L386.09,155.05 L387.34,154.59 L388.60,154.12 L389.85,153.66 L391.11,153.19 L392.36,152.72 L393.62,152.25 L394.87,151.77 L396.13,151.30 L397.38,150.82 L398.64,150.34 L399.89,149.86 L401.15,149.37 L402.40,148.88 L403.66,148.39 L404.91,147.90 L406.17,147.41 L407.42,146.91 L408.68,146.41 L409.93,145.91 L411.19,145.41 L412.44,144.90" fill="none" stroke="#008b00" stroke-width="1.25"/>
<path d="M37.20,264.20 L38.45,263.44 L39.71,262.70 L40.96,261.98 L42.22,261.30 L43.47,260.63 L44.73,259.98 L45.98,259.35 L47.24,258.75 L48.49,258.15 L49.75,257.58 L51.00,257.01 L52.26,256.46 L53.51,255.93 L54.77,255.41 L56.02,254.89 L57.28,254.39 L58.53,253.90 L59.79,253.42 L61.04,252.95 L62.30,252.49 L63.55,252.04 L64.81,251.59 L66.06,251.16 L67.32,250.73 L68.57,250.31 L69.83,249.90 L71.08,249.50 L72.34,249.11 L73.59,248.72 L74.85,248.35 L76.10,247.98 L77.36,247.61 L78.61,247.25 L79.87,246.90 L81.12,246.55 L82.38,246.21 L83.63,245.87 L84.89,245.53 L86.14,245.20 L87.40,244.86 L88.65,244.53 L89.91,244.19 L91.16,243.85 L92.42,243.50 L93.67,243.15 L94.93,242.79 L96.18,242.43 L97.44,242.07 L98.69,241.69 L99.95,241.31 L101.20,240.92 L102.46,240.53 L103.71,240.13 L104.97,239.72 L106.22,239.31 L107.48,238.90 L108.73,238.49 L109.99,238.07 L111.24,237.65 L112.50,237.23 L113.75,236.82 L115.01,236.40 L116.26,235.99 L117.52,235.58 L118.77,235.18 L120.03,234.78 L121.28,234.38 L122.54,233.99 L123.79,233.61 L125.05,233.23 L126.30,232.85 L127.56,232.48 L128.81,232.11 L130.07,231.75 L131.32,231.39 L132.58,231.03 L133.83,230.68 L135.09,230.33 L136.34,229.98 L137.60,229.64 L138.85,229.29 L140.11,228.95 L141.36,228.62 L142.62,228.28 L143.87,227.95 L145.13,227.61 L146.38,227.28 L147.64,226.95 L148.89,226.62 L150.15,226.30 L151.40,225.97 L152.66,225.65 L153.91,225.32 L155.17,225.00 L156.42,224.68 L157.68,224.36 L158.93,224.04 L160.19,223.72 L161.44,223.40 L162.70,223.08 L163.95,222.77 L165.21,222.45 L166.46,222.14 L167.72,221.82 L168.97,221.51 L170.23,221.20 L171.48,220.89 L172.74,220.58 L173.99,220.27 L175.25,219.96 L176.50,219.65 L177.76,219.34 L179.01,219.04 L180.27,218.73 L181.52,218.43 L182.78,218.13 L184.03,217.82 L185.29,217.52 L186.54,217.22 L187.80,216.92 L189.05,216.62 L190.31,216.32 L191.56,216.02 L192.82,215.72 L194.07,215.43 L195.33,215.13 L196.58,214.83 L197.84,214.54 L199.09,214.24 L200.35,213.95 L201.60,213.65 L202.86,213.36 L204.11,213.07 L205.37,212.78 L206.62,212.48 L207.88,212.19 L209.13,211.90 L210.39,211.61 L211.64,211.32 L212.90,211.03 L214.15,210.74 L215.41,210.46 L216.66,210.17 L217.92,209.88 L219.17,209.59 L220.43,209.30 L221.68,209.02 L222.94,208.73 L224.19,208.45 L225.45,208.16 L226.70,207.87 L227.96,207.59 L229.21,207.30 L230.47,207.02 L231.72,206.73 L232.98,206.45 L234.23,206.16 L235.49,205.88 L236.74,205.59 L238.00,205.31 L239.25,205.03 L240.51,204.74 L241.76,204.46 L243.02,204.17 L244.27,203.89 L245.53,203.61 L246.78,203.32 L248.04,203.04 L249.29,202.75 L250.55,202.47 L251.80,202.19 L253.06,201.90 L254.31,201.62 L255.57,201.33 L256.82,201.05 L258.08,200.76 L259.33,200.48 L260.59,200.19 L261.84,199.91 L263.10,199.62 L264.35,199.34 L265.61,199.05 L266.86,198.76 L268.12,198.48 L269.37,198.19 L270.63,197.90 L271.88,197.62 L273.14,197.33 L274.39,197.04 L275.65,196.75 L276.90,196.46 L278.16,196.17 L279.41,195.88 L280.67,195.59 L281.92,195.30 L283.18,195.01 L284.43,194.72 L285.69,194.42 L286.94,194.13 L288.20,193.84 L289.45,193.54 L290.71,193.25 L291.96,192.95 L293.22,192.65 L294.47,192.36 L295.73,192.06 L296.98,191.76 L298.24,191.46 L299.49,191.16 L300.75,190.86 L302.00,190.56 L303.26,190.26 L304.51,189.96 L305.77,189.65 L307.02,189.35 L308.28,189.04 L309.53,188.74 L310.79,188.43 L312.04,188.12 L313.30,187.81 L314.55,187.50 L315.81,187.19 L317.06,186.88 L318.32,186.57 L319.57,186.25 L320.83,185.94 L322.08,185.62 L323.34,185.31 L324.59,184.99 L325.85,184.67 L327.10,184.35 L328.36,184.03 L329.61,183.70 L330.87,183.38 L332.12,183.06 L333.38,182.73 L334.63,182.40 L335.89,182.07 L337.14,181.74 L338.40,181.41 L339.65,181.08 L340.91,180.75 L342.16,180.41 L343.42,180.08 L344.67,179.74 L345.93,179.40 L347.18,179.06 L348.44,178.72 L349.69,178.37 L350.95,178.03 L352.20,177.68 L353.46,177.34 L354.71,176.99 L355.97,176.64 L357.22,176.28 L358.48,175.93 L359.73,175.57 L360.99,175.22 L362.24,174.86 L363.50,174.50 L364.75,174.14 L366.01,173.77 L367.26,173.41 L368.52,173.04 L369.77,172.67 L371.03,172.30 L372.28,171.93 L373.54,171.56 L374.79,171.18 L376.05,170.81 L377.30,170.43 L378.56,170.05 L379.81,169.66 L381.07,169.28 L382.32,168.89 L383.58,168.50 L384.83,168.11 L386.09,167.72 L387.34,167.33 L388.60,166.93 L389.85,166.53 L391.11,166.13 L392.36,165.73 L393.62,165.33 L394.87,164.92 L396.13,164.51 L397.38,164.10 L398.64,163.69 L399.89,163.27 L401.15,162.86 L402.40,162.44 L403.66,162.02 L404.91,161.59 L406.17,161.17 L407.42,160.74 L408.68,160.31 L409.93,159.88 L411.19,159.44 L412.44,159.01" fill="none" stroke="#40e0d0" stroke-width="1.25"/>
<path d="M37.20,264.20 L38.45,263.54 L39.71,262.89 L40.96,262.26 L42.22,261.65 L43.47,261.06 L44.73,260.48 L45.98,259.91 L47.24,259.36 L48.49,258.82 L49.75,258.29 L51.00,257.77 L52.26,257.27 L53.51,256.77 L54.77,256.28 L56.02,255.81 L57.28,255.34 L58.53,254.88 L59.79,254.43 L61.04,253.99 L62.30,253.56 L63.55,253.13 L64.81,252.71 L66.06,252.30 L67.32,251.90 L68.57,251.51 L69.83,251.12 L71.08,250.75 L72.34,250.38 L73.59,250.01 L74.85,249.66 L76.10,249.31 L77.36,248.97 L78.61,248.64 L79.87,248.31 L81.12,247.98 L82.38,247.66 L83.63,247.35 L84.89,247.03 L86.14,246.72 L87.40,246.41 L88.65,246.10 L89.91,245.78 L91.16,245.46 L92.42,245.14 L93.67,244.82 L94.93,244.49 L96.18,244.15 L97.44,243.81 L98.69,243.46 L99.95,243.10 L101.20,242.74 L102.46,242.37 L103.71,242.00 L104.97,241.62 L106.22,241.24 L107.48,240.85 L108.73,240.46 L109.99,240.07 L111.24,239.68 L112.50,239.29 L113.75,238.90 L115.01,238.51 L116.26,238.12 L117.52,237.74 L118.77,237.37 L120.03,236.99 L121.28,236.62 L122.54,236.26 L123.79,235.90 L125.05,235.55 L126.30,235.20 L127.56,234.85 L128.81,234.51 L130.07,234.17 L131.32,233.84 L132.58,233.51 L133.83,233.18 L135.09,232.86 L136.34,232.54 L137.60,232.22 L138.85,231.91 L140.11,231.59 L141.36,231.28 L142.62,230.97 L143.87,230.67 L145.13,230.36 L146.38,230.05 L147.64,229.75 L148.89,229.45 L150.15,229.15 L151.40,228.85 L152.66,228.55 L153.91,228.25 L155.17,227.95 L156.42,227.66 L157.68,227.36 L158.93,227.07 L160.19,226.77 L161.44,226.48 L162.70,226.19 L163.95,225.90 L165.21,225.61 L166.46,225.32 L167.72,225.03 L168.97,224.74 L170.23,224.46 L171.48,224.17 L172.74,223.88 L173.99,223.60 L175.25,223.32 L176.50,223.03 L177.76,222.75 L179.01,222.47 L180.27,222.19 L181.52,221.91 L182.78,221.63 L184.03,221.35 L185.29,221.08 L186.54,220.80 L187.80,220.52 L189.05,220.25 L190.31,219.97 L191.56,219.70 L192.82,219.43 L194.07,219.15 L195.33,218.88 L196.58,218.61 L197.84,218.34 L199.09,218.07 L200.35,217.80 L201.60,217.53 L202.86,217.26 L204.11,216.99 L205.37,216.73 L206.62,216.46 L207.88,216.19 L209.13,215.93 L210.39,215.66 L211.64,215.40 L212.90,215.13 L214.15,214.87 L215.41,214.60 L216.66,214.34 L217.92,214.08 L219.17,213.81 L220.43,213.55 L221.68,213.29 L222.94,213.03 L224.19,212.77 L225.45,212.51 L226.70,212.25 L227.96,211.99 L229.21,211.73 L230.47,211.47 L231.72,211.21 L232.98,210.95 L234.23,210.69 L235.49,210.43 L236.74,210.17 L238.00,209.92 L239.25,209.66 L240.51,209.40 L241.76,209.14 L243.02,208.88 L244.27,208.63 L245.53,208.37 L246.78,208.11 L248.04,207.86 L249.29,207.60 L250.55,207.34 L251.80,207.09 L253.06,206.83 L254.31,206.57 L255.57,206.32 L256.82,206.06 L258.08,205.80 L259.33,205.54 L260.59,205.29 L261.84,205.03 L263.10,204.77 L264.35,204.52 L265.61,204.26 L266.86,204.00 L268.12,203.74 L269.37,203.49 L270.63,203.23 L271.88,202.97 L273.14,202.71 L274.39,202.46 L275.65,202.20 L276.90,201.94 L278.16,201.68 L279.41,201.42 L280.67,201.16 L281.92,200.90 L283.18,200.64 L284.43,200.38 L285.69,200.12 L286.94,199.86 L288.20,199.60 L289.45,199.33 L290.71,199.07 L291.96,198.81 L293.22,198.55 L294.47,198.28 L295.73,198.02 L296.98,197.75 L298.24,197.49 L299.49,197.22 L300.75,196.96 L302.00,196.69 L303.26,196.42 L304.51,196.16 L305.77,195.89 L307.02,195.62 L308.28,195.35 L309.53,195.08 L310.79,194.81 L312.04,194.54 L313.30,194.27 L314.55,194.00 L315.81,193.72 L317.06,193.45 L318.32,193.17 L319.57,192.90 L320.83,192.62 L322.08,192.35 L323.34,192.07 L324.59,191.79 L325.85,191.51 L327.10,191.23 L328.36,190.95 L329.61,190.67 L330.87,190.39 L332.12,190.10 L333.38,189.82 L334.63,189.53 L335.89,189.25 L337.14,188.96 L338.40,188.67 L339.65,188.38 L340.91,188.09 L342.16,187.80 L343.42,187.51 L344.67,187.22 L345.93,186.92 L347.18,186.63 L348.44,186.33 L349.69,186.04 L350.95,185.74 L352.20,185.44 L353.46,185.14 L354.71,184.84 L355.97,184.53 L357.22,184.23 L358.48,183.93 L359.73,183.62 L360.99,183.31 L362.24,183.00 L363.50,182.69 L364.75,182.38 L366.01,182.07 L367.26,181.76 L368.52,181.44 L369.77,181.13 L371.03,180.81 L372.28,180.49 L373.54,180.17 L374.79,179.85 L376.05,179.52 L377.30,179.20 L378.56,178.87 L379.81,178.55 L381.07,178.22 L382.32,177.89 L383.58,177.56 L384.83,177.22 L386.09,176.89 L387.34,176.55 L388.60,176.21 L389.85,175.87 L391.11,175.53 L392.36,175.19 L393.62,174.85 L394.87,174.50 L396.13,174.15 L397.38,173.81 L398.64,173.46 L399.89,173.10 L401.15,172.75 L402.40,172.39 L403.66,172.04 L404.91,171.68 L406.17,171.32 L407.42,170.95 L408.68,170.59 L409.93,170.22 L411.19,169.86 L412.44,169.49" fill="none" stroke="#ffa500" stroke-width="1.25"/>
<path d="M37.20,264.20 L38.45,263.68 L39.71,263.16 L40.96,262.64 L42.22,262.14 L43.47,261.63 L44.73,261.14 L45.98,260.64 L47.24,260.16 L48.49,259.67 L49.75,259.20 L51.00,258.73 L52.26,258.26 L53.51,257.80 L54.77,257.35 L56.02,256.90 L57.28,256.45 L58.53,256.01 L59.79,255.58 L61.04,255.16 L62.30,254.74 L63.55,254.32 L64.81,253.92 L66.06,253.52 L67.32,253.13 L68.57,252.75 L69.83,252.38 L71.08,252.01 L72.34,251.66 L73.59,251.31 L74.85,250.97 L76.10,250.64 L77.36,250.32 L78.61,250.00 L79.87,249.69 L81.12,249.39 L82.38,249.10 L83.63,248.80 L84.89,248.51 L86.14,248.22 L87.40,247.94 L88.65,247.65 L89.91,247.36 L91.16,247.06 L92.42,246.76 L93.67,246.46 L94.93,246.14 L96.18,245.82 L97.44,245.49 L98.69,245.15 L99.95,244.81 L101.20,244.45 L102.46,244.09 L103.71,243.71 L104.97,243.34 L106.22,242.95 L107.48,242.57 L108.73,242.18 L109.99,241.78 L111.24,241.39 L112.50,241.00 L113.75,240.61 L115.01,240.22 L116.26,239.84 L117.52,239.46 L118.77,239.09 L120.03,238.72 L121.28,238.36 L122.54,238.01 L123.79,237.66 L125.05,237.32 L126.30,236.99 L127.56,236.66 L128.81,236.34 L130.07,236.03 L131.32,235.72 L132.58,235.41 L133.83,235.12 L135.09,234.82 L136.34,234.53 L137.60,234.24 L138.85,233.95 L140.11,233.67 L141.36,233.39 L142.62,233.12 L143.87,232.84 L145.13,232.57 L146.38,232.30 L147.64,232.03 L148.89,231.76 L150.15,231.49 L151.40,231.22 L152.66,230.96 L153.91,230.70 L155.17,230.43 L156.42,230.17 L157.68,229.91 L158.93,229.65 L160.19,229.40 L161.44,229.14 L162.70,228.88 L163.95,228.63 L165.21,228.37 L166.46,228.12 L167.72,227.86 L168.97,227.61 L170.23,227.36 L171.48,227.11 L172.74,226.86 L173.99,226.61 L175.25,226.36 L176.50,226.11 L177.76,225.86 L179.01,225.62 L180.27,225.37 L181.52,225.12 L182.78,224.88 L184.03,224.63 L185.29,224.39 L186.54,224.14 L187.80,223.90 L189.05,223.66 L190.31,223.41 L191.56,223.17 L192.82,222.93 L194.07,222.69 L195.33,222.45 L196.58,222.21 L197.84,221.96 L199.09,221.72 L200.35,221.48 L201.60,221.24 L202.86,221.00 L204.11,220.76 L205.37,220.53 L206.62,220.29 L207.88,220.05 L209.13,219.81 L210.39,219.57 L211.64,219.33 L212.90,219.10 L214.15,218.86 L215.41,218.62 L216.66,218.38 L217.92,218.14 L219.17,217.91 L220.43,217.67 L221.68,217.43 L222.94,217.19 L224.19,216.96 L225.45,216.72 L226.70,216.48 L227.96,216.25 L229.21,216.01 L230.47,215.77 L231.72,215.53 L232.98,215.30 L234.23,215.06 L235.49,214.82 L236.74,214.59 L238.00,214.35 L239.25,214.11 L240.51,213.87 L241.76,213.64 L243.02,213.40 L244.27,213.16 L245.53,212.92 L246.78,212.68 L248.04,212.45 L249.29,212.21 L250.55,211.97 L251.80,211.73 L253.06,211.49 L254.31,211.25 L255.57,211.01 L256.82,210.77 L258.08,210.53 L259.33,210.30 L260.59,210.06 L261.84,209.82 L263.10,209.57 L264.35,209.33 L265.61,209.09 L266.86,208.85 L268.12,208.61 L269.37,208.37 L270.63,208.13 L271.88,207.89 L273.14,207.64 L274.39,207.40 L275.65,207.16 L276.90,206.92 L278.16,206.67 L279.41,206.43 L280.67,206.19 L281.92,205.94 L283.18,205.70 L284.43,205.45 L285.69,205.21 L286.94,204.96 L288.20,204.72 L289.45,204.47 L290.71,204.22 L291.96,203.98 L293.22,203.73 L294.47,203.48 L295.73,203.24 L296.98,202.99 L298.24,202.74 L299.49,202.49 L300.75,202.24 L302.00,201.99 L303.26,201.74 L304.51,201.50 L305.77,201.24 L307.02,200.99 L308.28,200.74 L309.53,200.49 L310.79,200.24 L312.04,199.99 L313.30,199.74 L314.55,199.48 L315.81,199.23 L317.06,198.98 L318.32,198.72 L319.57,198.47 L320.83,198.22 L322.08,197.96 L323.34,197.71 L324.59,197.45 L325.85,197.19 L327.10,196.94 L328.36,196.68 L329.61,196.42 L330.87,196.17 L332.12,195.91 L333.38,195.65 L334.63,195.39 L335.89,195.13 L337.14,194.87 L338.40,194.62 L339.65,194.36 L340.91,194.09 L342.16,193.83 L343.42,193.57 L344.67,193.31 L345.93,193.05 L347.18,192.79 L348.44,192.52 L349.69,192.26 L350.95,192.00 L352.20,191.73 L353.46,191.47 L354.71,191.21 L355.97,190.94 L357.22,190.68 L358.48,190.41 L359.73,190.14 L360.99,189.88 L362.24,189.61 L363.50,189.34 L364.75,189.08 L366.01,188.81 L367.26,188.54 L368.52,188.27 L369.77,188.00 L371.03,187.74 L372.28,187.47 L373.54,187.20 L374.79,186.93 L376.05,186.65 L377.30,186.38 L378.56,186.11 L379.81,185.84 L381.07,185.57 L382.32,185.30 L383.58,185.02 L384.83,184.75 L386.09,184.48 L387.34,184.20 L388.60,183.93 L389.85,183.66 L391.11,183.38 L392.36,183.11 L393.62,182.83 L394.87,182.55 L396.13,182.28 L397.38,182.00 L398.64,181.73 L399.89,181.45 L401.15,181.17 L402.40,180.89 L403.66,180.62 L404.91,180.34 L406.17,180.06 L407.42,179.78 L408.68,179.50 L409.93,179.22 L411.19,178.94 L412.44,178.66" fill="none" stroke="#ff0000" stroke-width="1.25"/>
</g>
<rect x="37.13" y="1.77" width="375.77" height="262.58" fill="none" stroke="#7c7c7c" stroke-width="1.6"/>
<path d="M59.50,264.35v-3.8M59.50,1.77v3.8M81.90,264.35v-3.8M81.90,1.77v3.8M104.30,264.35v-3.8M104.30,1.77v3.8M126.70,264.35v-7.5M126.70,1.77v7.5M149.10,264.35v-3.8M149.10,1.77v3.8M171.50,264.35v-3.8M171.50,1.77v3.8M193.90,264.35v-3.8M193.90,1.77v3.8M216.30,264.35v-7.5M216.30,1.77v7.5M238.70,264.35v-3.8M238.70,1.77v3.8M261.10,264.35v-3.8M261.10,1.77v3.8M283.50,264.35v-3.8M283.50,1.77v3.8M305.90,264.35v-7.5M305.90,1.77v7.5M328.30,264.35v-3.8M328.30,1.77v3.8M350.70,264.35v-3.8M350.70,1.77v3.8M373.10,264.35v-3.8M373.10,1.77v3.8M395.50,264.35v-7.5M395.50,1.77v7.5M37.13,250.85h3.8M412.90,250.85h-3.8M37.13,237.00h3.8M412.90,237.00h-3.8M37.13,223.15h3.8M412.90,223.15h-3.8M37.13,209.30h3.8M412.90,209.30h-3.8M37.13,195.45h7.5M412.90,195.45h-7.5M37.13,181.60h3.8M412.90,181.60h-3.8M37.13,167.75h3.8M412.90,167.75h-3.8M37.13,153.90h3.8M412.90,153.90h-3.8M37.13,140.05h3.8M412.90,140.05h-3.8M37.13,126.20h7.5M412.90,126.20h-7.5M37.13,112.35h3.8M412.90,112.35h-3.8M37.13,98.50h3.8M412.90,98.50h-3.8M37.13,84.65h3.8M412.90,84.65h-3.8M37.13,70.80h3.8M412.90,70.80h-3.8M37.13,56.95h7.5M412.90,56.95h-7.5M37.13,43.10h3.8M412.90,43.10h-3.8M37.13,29.25h3.8M412.90,29.25h-3.8M37.13,15.40h3.8M412.90,15.40h-3.8" stroke="#000" stroke-width="1.0" fill="none"/>
<rect x="48.3" y="9.5" width="88.7" height="140.4" fill="#fff" stroke="#2a2a2a" stroke-width="0.8"/>
<path d="M60.67,18.87L66.13,24.33M60.67,24.33L66.13,18.87" stroke="#bc8f8f" stroke-width="1.8" fill="none"/>
<path d="M59.57,39.60L67.23,39.60M63.40,35.77L63.40,43.43" stroke="#000000" stroke-width="1.9" fill="none"/>
<path d="M59.00,54.10L63.40,49.70L67.80,54.10L63.40,58.50Z" fill="#670748"/>
<path d="M60.86,64.20L68.48,68.60L60.86,73.00Z" fill="#9400d3"/>
<path d="M65.94,78.70L58.32,83.10L65.94,87.50Z" fill="#0000ff"/>
<path d="M59.00,95.06L63.40,102.68L67.80,95.06Z" fill="#008b00"/>
<path d="M59.00,114.64L63.40,107.02L67.80,114.64Z" fill="#40e0d0"/>
<rect x="59.75" y="122.95" width="7.30" height="7.30" fill="#ffa500"/>
<circle cx="63.40" cy="141.10" r="4.4" fill="#ff0000"/>
</svg>
<div class="t" style="left:37.20px;transform:translateX(-50%);top:266.56px;font-size:16.4px;">0</div>
<div class="t" style="left:126.80px;transform:translateX(-50%);top:266.56px;font-size:16.4px;">10</div>
<div class="t" style="left:216.40px;transform:translateX(-50%);top:266.56px;font-size:16.4px;">20</div>
<div class="t" style="left:306.00px;transform:translateX(-50%);top:266.56px;font-size:16.4px;">30</div>
<div class="t" style="left:395.60px;transform:translateX(-50%);top:266.56px;font-size:16.4px;">40</div>
<div class="t" style="right:380.30px;top:257.86px;font-size:16.4px;">0</div>
<div class="t" style="right:380.30px;top:188.62px;font-size:16.4px;">5</div>
<div class="t" style="right:380.30px;top:119.36px;font-size:16.4px;">10</div>
<div class="t" style="right:380.30px;top:50.11px;font-size:16.4px;">15</div>
<div class="t" style="left:225.70px;transform:translateX(-50%);top:280.72px;font-size:15.5px;">h&#937; [MeV]</div>
<div class="t" style="left:12.6px;top:133.0px;font-size:15.8px;transform-origin:0 0;transform:rotate(-90deg) translate(-50%,-13.23px)"><i>E</i> [MeV]</div>
<div class="t" style="left:160.80px;top:16.87px;font-size:18.3px;">Daejeon16</div>
<div class="t" style="left:160.80px;top:54.57px;font-size:18.3px;"><i>n</i><span style="display:inline-block;transform:scaleX(1.3);transform-origin:0 50%;margin-right:2.5px;margin-left:0.6px">&#945;</span>, 1/2<span style="font-size:11px;position:relative;top:-11.2px;margin-left:-0.8px">-</span></div>
<div class="t" style="left:81.80px;top:11.22px;font-size:15.5px;"><i>N</i><span style="font-size:11px;position:relative;top:5.1px;margin-left:1.2px">max</span><span style="margin-left:-0.2px">=</span></div>
<div class="t" style="right:281.90px;top:11.22px;font-size:15.5px;">2</div>
<div class="t" style="right:281.50px;top:32.22px;font-size:15.5px;">4</div>
<div class="t" style="right:281.50px;top:46.72px;font-size:15.5px;">6</div>
<div class="t" style="right:281.50px;top:61.22px;font-size:15.5px;">8</div>
<div class="t" style="right:281.50px;top:75.72px;font-size:15.5px;">10</div>
<div class="t" style="right:281.50px;top:90.22px;font-size:15.5px;">12</div>
<div class="t" style="right:281.50px;top:104.72px;font-size:15.5px;">14</div>
<div class="t" style="right:281.50px;top:119.22px;font-size:15.5px;">16</div>
<div class="t" style="right:281.50px;top:133.72px;font-size:15.5px;">18</div>
</div></body></html>
